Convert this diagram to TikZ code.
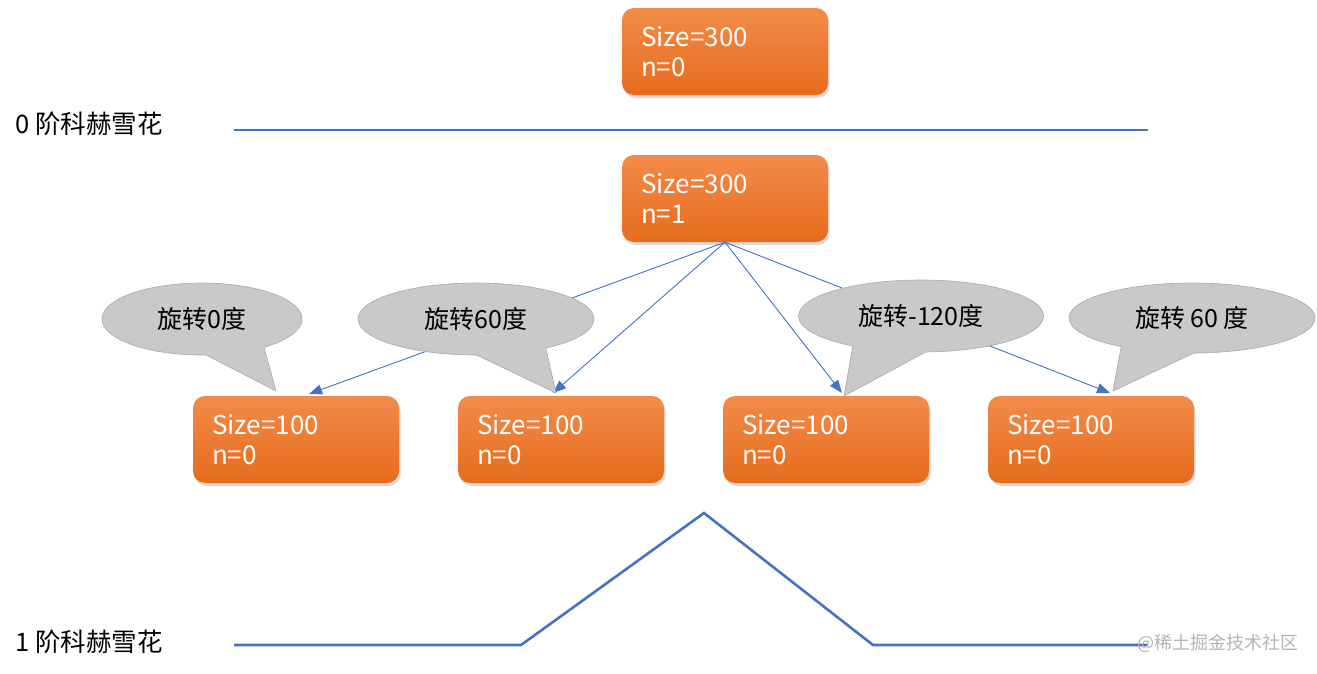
\documentclass[tikz,border=0pt]{standalone}
\usepackage{fontspec}
\setmainfont{Noto Sans CJK SC}
\usetikzlibrary{shapes.callouts,shadows,arrows.meta,calc}
\definecolor{lineblue}{HTML}{4472C4}
\definecolor{orTop}{HTML}{F28B4A}
\definecolor{orBot}{HTML}{E66C1C}
\definecolor{bubFill}{HTML}{C9C9C9}
\definecolor{bubDraw}{HTML}{A8A8A8}
\definecolor{wmark}{HTML}{B4B4B4}
\begin{document}
\begin{tikzpicture}[x=1pt,y=-1pt,
  box/.style={rounded corners=12pt, top color=orTop, bottom color=orBot,
    minimum width=206pt, minimum height=87pt, text width=168pt, align=left,
    inner xsep=19pt, inner ysep=0pt, text=white, font=\fontsize{26}{30}\selectfont,
    drop shadow={opacity=0.3, shadow xshift=1.5pt, shadow yshift=-3pt}},
  bubble/.style={ellipse callout, fill=bubFill, draw=bubDraw, line width=0.6pt,
    inner sep=0pt, font=\fontsize{25}{28}\selectfont, callout pointer arc=36},
  thickline/.style={draw=lineblue, line width=2.6pt},
  arrowline/.style={draw=lineblue, line width=0.9pt, -{Triangle[length=13pt,width=10pt]}},
  lbl/.style={anchor=west, inner sep=0pt, font=\fontsize{25.5}{28}\selectfont}
]
\useasboundingbox (0,0) rectangle (1317,673);

% order 0
\node[box] (top0) at (725,51.5) {Size=300\\n=0};
\node[lbl] (l0) at (15,124) {0 阶科赫雪花};
\coordinate (a0) at (234,130);
\coordinate (a1) at (1148,130);
\draw[thickline] (a0) -- (a1);

% order 1
\node[box] (top1) at (725,198.5) {Size=300\\n=1};
\coordinate (p1) at (309,394);
\coordinate (p2) at (553,393);
\coordinate (p3) at (842,393);
\coordinate (p4) at (1110,393);
\draw[arrowline] (top1.south) -- (p1);
\draw[arrowline] (top1.south) -- (p2);
\draw[arrowline] (top1.south) -- (p3);
\draw[arrowline] (top1.south) -- (p4);

\coordinate (t1) at (276,391);
\coordinate (t2) at (556,393);
\coordinate (t3) at (844,396);
\coordinate (t4) at (1113,391);
\node[bubble, minimum width=200pt, minimum height=72pt, callout absolute pointer={(t1)}] (e1) at (202,319) {旋转0度};
\node[bubble, minimum width=236pt, minimum height=72pt, callout absolute pointer={(t2)}] (e2) at (476,319) {旋转60度};
\node[bubble, minimum width=245pt, minimum height=72pt, callout absolute pointer={(t3)}] (e3) at (921,316) {旋转-120度};
\node[bubble, minimum width=246pt, minimum height=70pt, callout absolute pointer={(t4)}] (e4) at (1192,318) {旋转 60 度};

\node[box] (c1) at (296,439.5) {Size=100\\n=0};
\node[box] (c2) at (561,439.5) {Size=100\\n=0};
\node[box] (c3) at (826,439.5) {Size=100\\n=0};
\node[box] (c4) at (1091,439.5) {Size=100\\n=0};

\node[lbl] (l1) at (15,642) {1 阶科赫雪花};
\coordinate (k0) at (234,645);
\coordinate (k1) at (521,645);
\coordinate (k2) at (704,513);
\coordinate (k3) at (873,645);
\coordinate (k4) at (1148,645);
\draw[thickline] (k0) -- (k1) -- (k2) -- (k3) -- (k4);

\node[anchor=west, inner sep=0pt, text=wmark, font=\fontsize{18}{20}\selectfont] (wm) at (1137,643) {@稀土掘金技术社区};
\end{tikzpicture}
\end{document}
